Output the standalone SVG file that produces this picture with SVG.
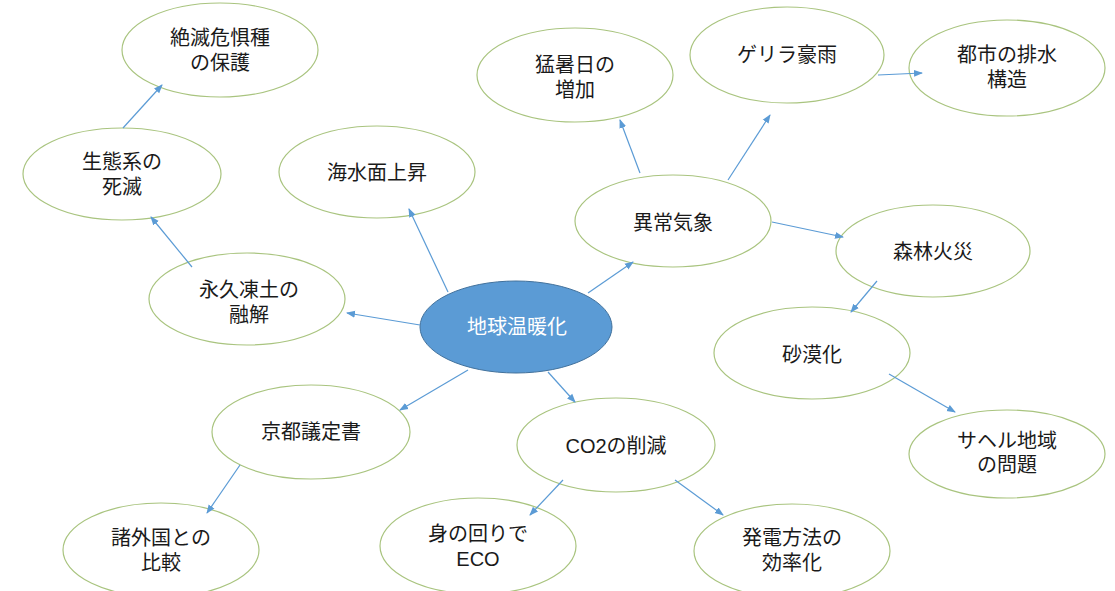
<svg xmlns="http://www.w3.org/2000/svg" width="1115" height="591" viewBox="0 0 1115 591">
<defs>
<marker id="ah" markerWidth="10" markerHeight="10" refX="8" refY="5" orient="auto" markerUnits="userSpaceOnUse">
<path d="M0,1.5 L9,5 L0,8.5 Z" fill="#5b9bd5"/>
</marker>
<style>
.n{fill:#fff;stroke:#a9c47f;stroke-width:1.2}
.c{fill:#5b9bd5;stroke:#41719c;stroke-width:1}
.t{font-family:"Liberation Sans","Noto Sans CJK JP",sans-serif;font-size:20px;fill:#1a1a1a;text-anchor:middle;dominant-baseline:central}
.tw{font-family:"Liberation Sans","Noto Sans CJK JP",sans-serif;font-size:20px;fill:#fff;text-anchor:middle;dominant-baseline:central}
.e{stroke:#5b9bd5;stroke-width:1.2;fill:none;marker-end:url(#ah)}
</style>
</defs>
<rect width="1115" height="591" fill="#fff"/>
<g id="n-center"><ellipse class="c" cx="516" cy="327" rx="96" ry="46"/><text class="tw" x="517" y="327">地球温暖化</text></g>
<g id="n-zetsumetsu"><ellipse class="n" cx="220" cy="50" rx="98" ry="47"/><text class="t" x="220" y="38">絶滅危惧種<tspan x="220" dy="25">の保護</tspan></text></g>
<g id="n-seitai"><ellipse class="n" cx="122" cy="174" rx="99" ry="46"/><text class="t" x="122" y="162">生態系の<tspan x="122" dy="25">死滅</tspan></text></g>
<g id="n-kaisui"><ellipse class="n" cx="377" cy="172" rx="98" ry="46"/><text class="t" x="377" y="173">海水面上昇</text></g>
<g id="n-eikyu"><ellipse class="n" cx="247" cy="299" rx="98" ry="46"/><text class="t" x="249" y="290">永久凍土の<tspan x="249" dy="25">融解</tspan></text></g>
<g id="n-mosho"><ellipse class="n" cx="575" cy="75" rx="98" ry="47"/><text class="t" x="575" y="65">猛暑日の<tspan x="575" dy="25">増加</tspan></text></g>
<g id="n-guerrilla"><ellipse class="n" cx="787" cy="55" rx="97" ry="48"/><text class="t" x="787" y="55">ゲリラ豪雨</text></g>
<g id="n-toshi"><ellipse class="n" cx="1007" cy="68" rx="98" ry="48"/><text class="t" x="1007" y="55">都市の排水<tspan x="1007" dy="25">構造</tspan></text></g>
<g id="n-ijo"><ellipse class="n" cx="673" cy="221" rx="98" ry="46"/><text class="t" x="673" y="223">異常気象</text></g>
<g id="n-shinrin"><ellipse class="n" cx="933" cy="251" rx="97" ry="46"/><text class="t" x="933" y="252">森林火災</text></g>
<g id="n-sabaku"><ellipse class="n" cx="812" cy="353" rx="98" ry="46"/><text class="t" x="812" y="355">砂漠化</text></g>
<g id="n-sahel"><ellipse class="n" cx="1007" cy="454" rx="98" ry="44"/><text class="t" x="1007" y="441">サヘル地域<tspan x="1007" dy="24">の問題</tspan></text></g>
<g id="n-kyoto"><ellipse class="n" cx="311" cy="432" rx="99" ry="47"/><text class="t" x="311" y="432">京都議定書</text></g>
<g id="n-co2"><ellipse class="n" cx="616" cy="445" rx="99" ry="47"/><text class="t" x="616" y="446">CO2の削減</text></g>
<g id="n-shogaikoku"><ellipse class="n" cx="161" cy="550" rx="98" ry="47"/><text class="t" x="161" y="538">諸外国との<tspan x="161" dy="25">比較</tspan></text></g>
<g id="n-eco"><ellipse class="n" cx="478" cy="546" rx="98" ry="48"/><text class="t" x="478" y="534">身の回りで<tspan x="478" dy="25">ECO</tspan></text></g>
<g id="n-hatsuden"><ellipse class="n" cx="792" cy="551" rx="98" ry="47"/><text class="t" x="792" y="538">発電方法の<tspan x="792" dy="25">効率化</tspan></text></g>
<g id="connectors">
<line class="e" x1="123" y1="128" x2="162" y2="85"/>
<line class="e" x1="192" y1="267" x2="151" y2="217"/>
<line class="e" x1="420" y1="325" x2="347" y2="313"/>
<line class="e" x1="448" y1="292" x2="409" y2="209"/>
<line class="e" x1="588" y1="293" x2="633" y2="262"/>
<line class="e" x1="640" y1="173" x2="620" y2="120"/>
<line class="e" x1="728" y1="180" x2="770" y2="115"/>
<line class="e" x1="878" y1="75" x2="922" y2="73"/>
<line class="e" x1="772" y1="222" x2="843" y2="237"/>
<line class="e" x1="877" y1="281" x2="851" y2="312"/>
<line class="e" x1="889" y1="374" x2="955" y2="412"/>
<line class="e" x1="468" y1="370" x2="400" y2="410"/>
<line class="e" x1="548" y1="372" x2="575" y2="402"/>
<line class="e" x1="240" y1="465" x2="207" y2="513"/>
<line class="e" x1="563" y1="480" x2="530" y2="515"/>
<line class="e" x1="675" y1="480" x2="723" y2="515"/>
</g>
</svg>
